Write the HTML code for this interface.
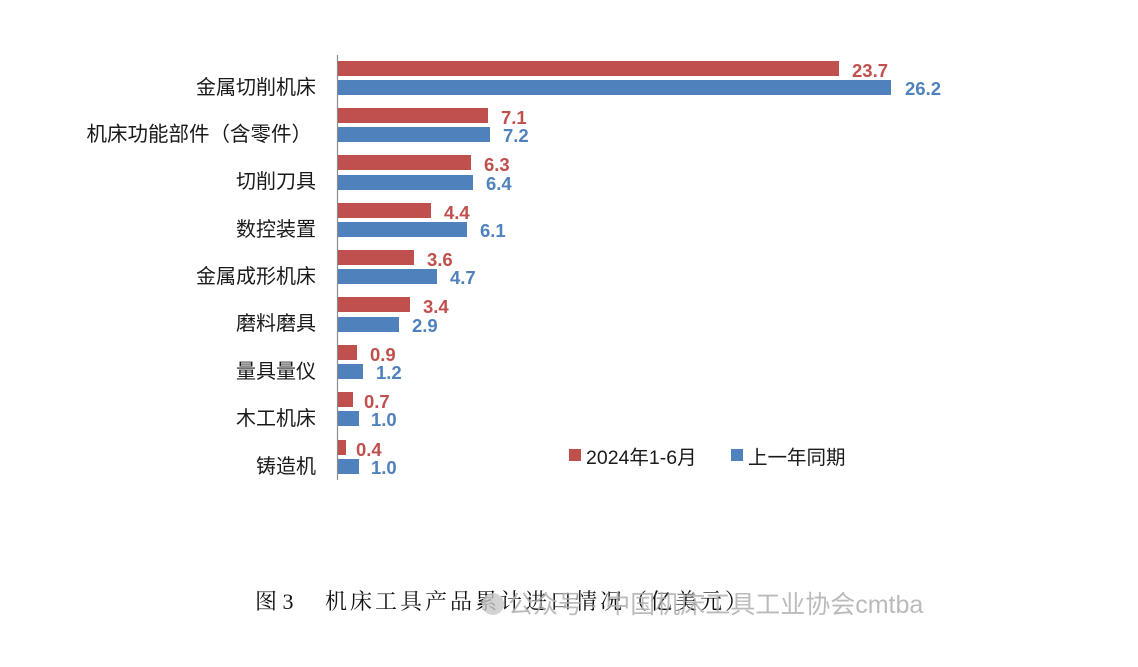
<!DOCTYPE html>
<html><head><meta charset="utf-8"><style>
html,body{margin:0;padding:0;background:#fff;width:1138px;height:667px;overflow:hidden}
</style></head><body>
<svg width="1138" height="667" xmlns="http://www.w3.org/2000/svg">
<line x1="337.5" y1="55" x2="337.5" y2="480" stroke="#8c8c8c" stroke-width="1.2"/>
<g font-family="'Liberation Sans','Noto Sans CJK SC',sans-serif" font-size="20" fill="#1a1a1a" text-anchor="end">
<text x="316" y="94">金属切削机床</text>
<text x="312" y="141" font-size="20.5">机床功能部件（含零件）</text>
<text x="316" y="188">切削刀具</text>
<text x="316" y="236">数控装置</text>
<text x="316" y="283">金属成形机床</text>
<text x="316" y="330">磨料磨具</text>
<text x="316" y="378">量具量仪</text>
<text x="316" y="425">木工机床</text>
<text x="316" y="473">铸造机</text>
</g>
<g font-family="'Liberation Sans',sans-serif" font-size="18.5" font-weight="bold">
<rect x="338" y="61" width="501" height="15" fill="#c0504d"/><rect x="338" y="80" width="553" height="15" fill="#4f81bd"/>
<text x="852" y="77" fill="#c0504d">23.7</text><text x="905" y="95" fill="#4f81bd">26.2</text>
<rect x="338" y="108" width="150" height="15" fill="#c0504d"/><rect x="338" y="127" width="152" height="15" fill="#4f81bd"/>
<text x="501" y="124" fill="#c0504d">7.1</text><text x="503" y="142" fill="#4f81bd">7.2</text>
<rect x="338" y="155" width="133" height="15" fill="#c0504d"/><rect x="338" y="175" width="135" height="15" fill="#4f81bd"/>
<text x="484" y="171" fill="#c0504d">6.3</text><text x="486" y="190" fill="#4f81bd">6.4</text>
<rect x="338" y="203" width="93" height="15" fill="#c0504d"/><rect x="338" y="222" width="129" height="15" fill="#4f81bd"/>
<text x="444" y="219" fill="#c0504d">4.4</text><text x="480" y="237" fill="#4f81bd">6.1</text>
<rect x="338" y="250" width="76" height="15" fill="#c0504d"/><rect x="338" y="269" width="99" height="15" fill="#4f81bd"/>
<text x="427" y="266" fill="#c0504d">3.6</text><text x="450" y="284" fill="#4f81bd">4.7</text>
<rect x="338" y="297" width="72" height="15" fill="#c0504d"/><rect x="338" y="317" width="61" height="15" fill="#4f81bd"/>
<text x="423" y="313" fill="#c0504d">3.4</text><text x="412" y="332" fill="#4f81bd">2.9</text>
<rect x="338" y="345" width="19" height="15" fill="#c0504d"/><rect x="338" y="364" width="25" height="15" fill="#4f81bd"/>
<text x="370" y="361" fill="#c0504d">0.9</text><text x="376" y="379" fill="#4f81bd">1.2</text>
<rect x="338" y="392" width="15" height="15" fill="#c0504d"/><rect x="338" y="411" width="21" height="15" fill="#4f81bd"/>
<text x="364" y="408" fill="#c0504d">0.7</text><text x="371" y="426" fill="#4f81bd">1.0</text>
<rect x="338" y="440" width="8" height="15" fill="#c0504d"/><rect x="338" y="459" width="21" height="15" fill="#4f81bd"/>
<text x="356" y="456" fill="#c0504d">0.4</text><text x="371" y="474" fill="#4f81bd">1.0</text>
</g>
<rect x="569" y="449" width="12" height="12" fill="#c0504d"/>
<rect x="731" y="449" width="12" height="12" fill="#4f81bd"/>
<g font-family="'Liberation Sans','Noto Sans CJK SC',sans-serif" font-size="19.5" fill="#1a1a1a">
<text x="586" y="464">2024年1-6月</text>
<text x="748" y="464">上一年同期</text>
</g>
<text x="255" y="609" font-family="'Liberation Serif','Noto Serif CJK SC',serif" font-size="22" fill="#111">图 3</text>
<text x="325" y="609" font-family="'Liberation Serif','Noto Serif CJK SC',serif" font-size="22" letter-spacing="3" fill="#111">机床工具产品累计进口情况（亿美元）</text>
<circle cx="493" cy="604" r="11" fill="#c8c8c8" opacity="0.8"/>
<text x="508" y="613" font-family="'Liberation Sans','Noto Sans CJK SC',sans-serif" font-size="25" fill="#b0b0b0" opacity="0.85">公众号 · 中国机床工具工业协会cmtba</text>
</svg>
</body></html>
